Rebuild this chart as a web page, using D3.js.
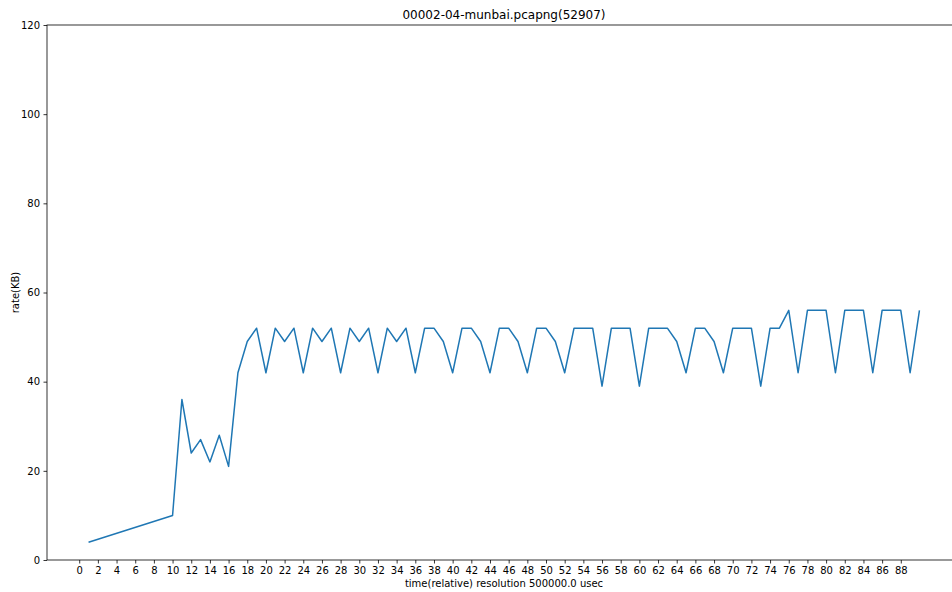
<!DOCTYPE html>
<html>
<head>
<meta charset="utf-8">
<script src="https://cdn.jsdelivr.net/npm/d3@7"></script>
<style>
  body { margin: 0; background: #fff; overflow: hidden; }
  text { font-family: "DejaVu Sans", sans-serif; fill: #000; }
</style>
</head>
<body>
<div id="chart"></div>
<script>
// sample times (relative, 0.5 s bins) and rate in KB
const times = [1, 10, 11, 12, 13, 14, 15, 16, 17, 18, 19, 20,
    21, 22, 23, 24, 25, 26, 27, 28, 29, 30,
    31, 32, 33, 34, 35, 36, 37, 38, 39, 40,
    41, 42, 43, 44, 45, 46, 47, 48, 49, 50,
    51, 52, 53, 54, 55, 56, 57, 58, 59, 60,
    61, 62, 63, 64, 65, 66, 67, 68, 69, 70,
    71, 72, 73, 74, 75, 76, 77, 78, 79, 80,
    81, 82, 83, 84, 85, 86, 87, 88, 89, 90];
const rates = [4, 10, 36, 24, 27, 22, 28, 21, 42, 49, 52, 42,
    52, 49, 52, 42, 52, 49, 52, 42, 52, 49,
    52, 42, 52, 49, 52, 42, 52, 52, 49, 42,
    52, 52, 49, 42, 52, 52, 49, 42, 52, 52,
    49, 42, 52, 52, 52, 39, 52, 52, 52, 39,
    52, 52, 52, 49, 42, 52, 52, 49, 42, 52,
    52, 52, 39, 52, 52, 56, 42, 56, 56, 56,
    42, 56, 56, 56, 42, 56, 56, 56, 42, 56];
const xTicks = d3.range(0, 90, 2);
const yTicks = [0, 20, 40, 60, 80, 100, 120];

const chartTitle = "00002-04-munbai.pcapng(52907)";
const xLabel = "time(relative) resolution 500000.0 usec";
const yLabel = "rate(KB)";

const W = 952, H = 592;
// axes box runs past the right edge of the window, as in the source image
const margin = {top: 25, left: 47, bottom: 32};
const plotRight = 961;

const svg = d3.select("#chart").append("svg")
    .attr("width", W)
    .attr("height", H);

// matplotlib style 5% padding on x
const xMin = d3.min(times), xMax = d3.max(times);
const pad = (xMax - xMin) * 0.05;
const x = d3.scaleLinear()
    .domain([xMin - pad, xMax + pad])
    .range([margin.left, plotRight]);
const y = d3.scaleLinear()
    .domain([0, 120])
    .range([H - margin.bottom, margin.top]);

const data = times.map((t, i) => ({x: t, y: rates[i]}));

svg.append("path")
    .datum(data)
    .attr("fill", "none")
    .attr("stroke", "#1f77b4")
    .attr("stroke-width", 1.5)
    .attr("stroke-linejoin", "round")
    .attr("d", d3.line().x(d => x(d.x)).y(d => y(d.y)));

// frame
svg.append("rect")
    .attr("x", margin.left)
    .attr("y", margin.top)
    .attr("width", plotRight - margin.left)
    .attr("height", (H - margin.bottom) - margin.top)
    .attr("fill", "none")
    .attr("stroke", "#000")
    .attr("stroke-width", 0.8);

const xAxis = svg.append("g")
    .attr("transform", `translate(0,${H - margin.bottom})`)
    .call(d3.axisBottom(x).tickValues(xTicks).tickSize(3.5).tickPadding(3.5));
const yAxis = svg.append("g")
    .attr("transform", `translate(${margin.left},0)`)
    .call(d3.axisLeft(y).tickValues(yTicks).tickSize(3.5).tickPadding(3.5));

[xAxis, yAxis].forEach(g => {
    g.select(".domain").remove();
    g.selectAll(".tick line").attr("stroke", "#000").attr("stroke-width", 0.8);
    g.selectAll(".tick text")
        .style("font-family", "DejaVu Sans, sans-serif")
        .style("font-size", "10px")
        .attr("fill", "#000");
});

svg.append("text")
    .attr("x", (margin.left + plotRight) / 2)
    .attr("y", 19)
    .attr("text-anchor", "middle")
    .style("font-size", "12px")
    .text(chartTitle);

svg.append("text")
    .attr("x", (margin.left + plotRight) / 2)
    .attr("y", 587)
    .attr("text-anchor", "middle")
    .style("font-size", "10px")
    .text(xLabel);

svg.append("text")
    .attr("transform", "rotate(-90)")
    .attr("x", -(margin.top + H - margin.bottom) / 2)
    .attr("y", 19)
    .attr("text-anchor", "middle")
    .style("font-size", "10px")
    .text(yLabel);
</script>
</body>
</html>
